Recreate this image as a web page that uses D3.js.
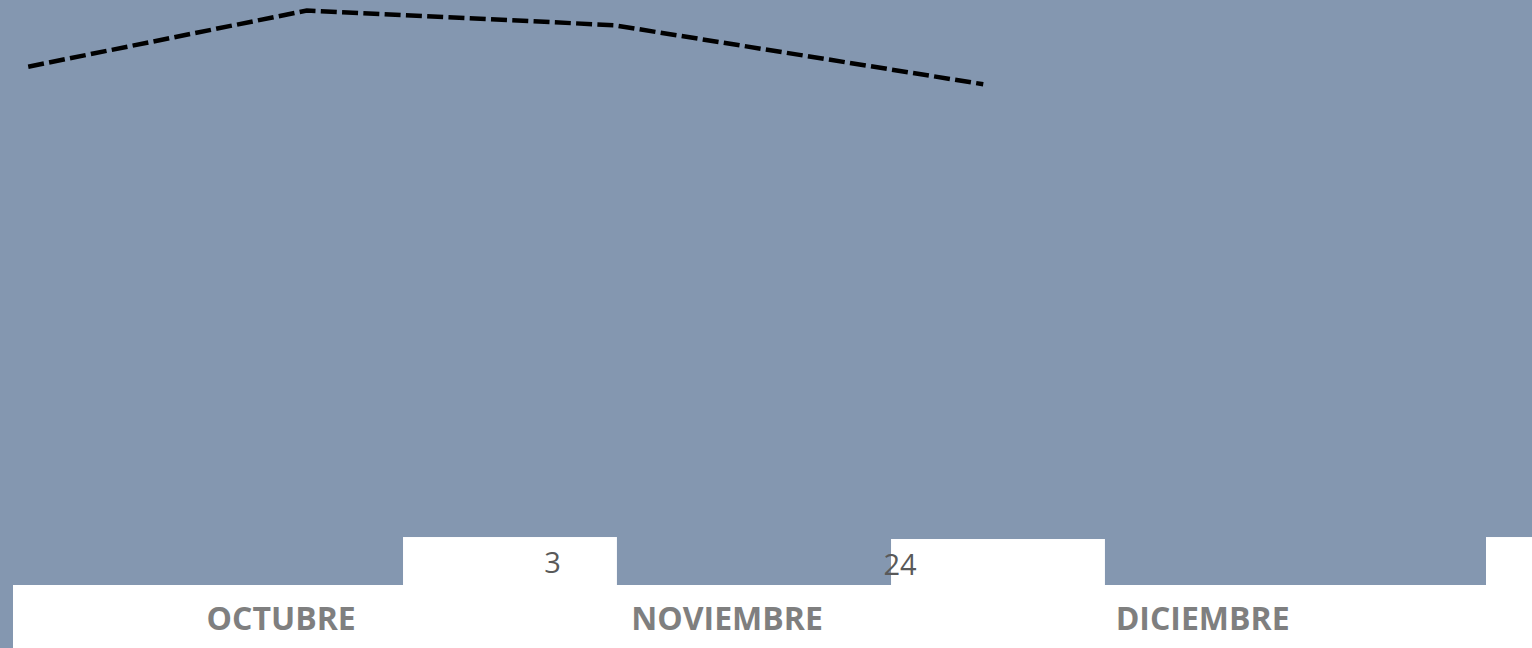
<!DOCTYPE html>
<html>
<head>
<meta charset="utf-8">
<script src="https://cdn.jsdelivr.net/npm/d3@7"></script>
<style>
  html, body { margin: 0; padding: 0; background: #ffffff; }
  svg { display: block; }
</style>
</head>
<body>
<svg id="chart" width="1532" height="648"></svg>
<script>
// month axis labels and where their centres sit (days since 1 Oct)
const months = ["OCTUBRE", "NOVIEMBRE", "DICIEMBRE"];
const monthLabelDay = [16.75, 44.6, 74.3];

// dashed trend line: day since 1 Oct, value (%)
const lineDays = [0.95, 18.35, 37.5, 60.6];
const lineValues = [88.6, 98.2, 95.7, 85.6];

// white columns: start/end day, height value, and their data labels
const barStart = [24.36, 54.84, 92.0];
const barEnd = [37.72, 68.2, 100.0];
const barValues = [8.2, 7.86, 8.2];
const barLabels = ["3", "24", ""];
const barLabelDay = [33.7, 55.4, 0];

const W = 1532, H = 648;
const BLUE = "#8497b0";

const svg = d3.select("#chart");

const x = d3.scaleLinear().domain([0, 92]).range([13, 1486]);
const y = d3.scaleLinear().domain([0, 100]).range([585, 0]);

// plot fill
svg.append("rect")
  .attr("x", 0).attr("y", 0)
  .attr("width", W).attr("height", H)
  .attr("fill", BLUE);

// category axis band
svg.append("rect")
  .attr("x", x(0)).attr("y", y(0))
  .attr("width", W - x(0)).attr("height", H - y(0))
  .attr("fill", "#ffffff");

// white columns
const bars = barValues.map((v, i) => ({ s: barStart[i], e: barEnd[i], v, label: barLabels[i], ld: barLabelDay[i] }));
svg.append("g").selectAll("rect").data(bars).join("rect")
  .attr("x", (d) => x(d.s))
  .attr("y", (d) => y(d.v))
  .attr("width", (d) => x(d.e) - x(d.s))
  .attr("height", (d) => y(0) - y(d.v))
  .attr("fill", "#ffffff");

svg.append("g").selectAll("text").data(bars.filter((d) => d.label)).join("text")
  .attr("x", (d) => x(d.ld))
  .attr("y", (d) => y(d.v) + 36)
  .attr("text-anchor", "middle")
  .attr("font-family", "'Open Sans', sans-serif")
  .attr("font-size", 29)
  .attr("fill", "#595959")
  .text((d) => d.label);

// month labels
svg.append("g").selectAll("text").data(months).join("text")
  .attr("x", (d, i) => x(monthLabelDay[i]))
  .attr("y", 630)
  .attr("text-anchor", "middle")
  .attr("font-family", "'Open Sans', sans-serif")
  .attr("font-weight", "bold")
  .attr("font-size", 32)
  .attr("fill", "#7f7f7f")
  .text((d) => d);

// dashed line
const pts = lineDays.map((d, i) => [d, lineValues[i]]);
svg.append("path")
  .datum(pts)
  .attr("d", d3.line().x((d) => x(d[0])).y((d) => y(d[1])))
  .attr("fill", "none")
  .attr("stroke", "#000000")
  .attr("stroke-width", 4.5)
  .attr("stroke-dasharray", "16 5.3");
</script>
</body>
</html>
